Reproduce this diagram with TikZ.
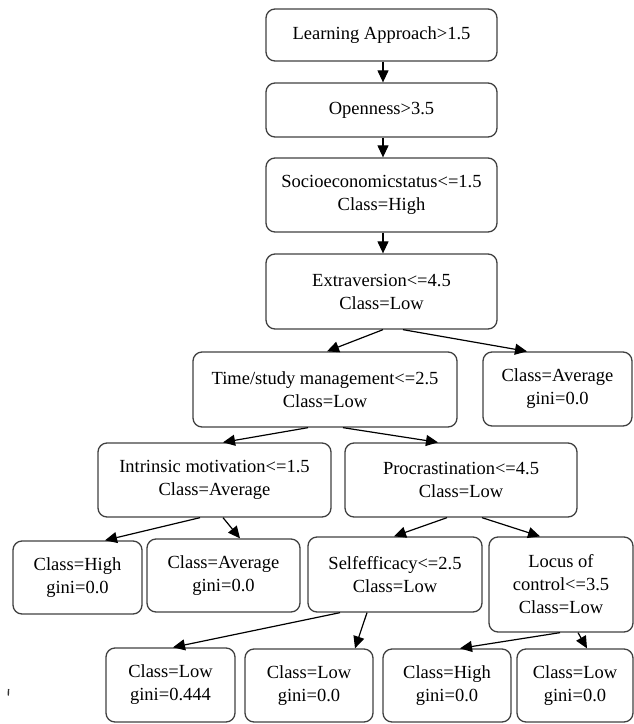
\documentclass[tikz,border=0pt]{standalone}
\usepackage{fontspec}
\setmainfont{Liberation Serif}
\usetikzlibrary{arrows.meta}
\begin{document}
\begin{tikzpicture}[x=1pt,y=-1pt,
  box/.style={draw=black!75, line width=1.3pt, rounded corners=9pt,
    inner sep=0pt, align=center,
    font=\fontsize{18.5}{23}\selectfont},
  arr/.style={draw=black, line width=1.2pt,
    -{Triangle[length=12pt,width=11pt]}}]
\useasboundingbox (0,0) rectangle (634,724);

% decision nodes, top to bottom
\node[box, minimum width=231pt, minimum height=52pt] (n1) at (381.5,35) {Learning Approach>1.5};
\node[box, minimum width=231pt, minimum height=54pt] (n2) at (381.5,110) {Openness>3.5};
\node[box, minimum width=231pt, minimum height=74pt] (n3) at (381.5,195) {Socioeconomicstatus<=1.5\\Class=High};
\node[box, minimum width=231pt, minimum height=75pt] (n4) at (381.5,291.5) {Extraversion<=4.5\\Class=Low};
\node[box, minimum width=264pt, minimum height=75pt] (n5) at (325,389.5) {Time/study management<=2.5\\Class=Low};
\node[box, minimum width=149pt, minimum height=74pt] (n6) at (557.5,389) {Class=Average\\gini=0.0};
\node[box, minimum width=233pt, minimum height=74pt] (n7) at (214.5,480) {Intrinsic motivation<=1.5\\Class=Average};
\node[box, minimum width=232pt, minimum height=74pt] (n8) at (461,480) {Procrastination<=4.5\\Class=Low};
\node[box, minimum width=129pt, minimum height=73pt] (n9) at (77.5,577.5) {Class=High\\gini=0.0};
\node[box, minimum width=153pt, minimum height=73pt] (n10) at (223.5,575.5) {Class=Average\\gini=0.0};
\node[box, minimum width=174pt, minimum height=75pt] (n11) at (395,574.5) {Selfefficacy<=2.5\\Class=Low};
\node[box, minimum width=144pt, minimum height=95pt] (n12) at (561,584.5) {Locus of\\control<=3.5\\Class=Low};
\node[box, minimum width=129pt, minimum height=74pt] (n13) at (170.5,685) {Class=Low\\gini=0.444};
\node[box, minimum width=128pt, minimum height=73pt] (n14) at (309,685.5) {Class=Low\\gini=0.0};
\node[box, minimum width=128pt, minimum height=73pt] (n15) at (447,685.5) {Class=High\\gini=0.0};
\node[box, minimum width=116pt, minimum height=73pt] (n16) at (575,685.5) {Class=Low\\gini=0.0};

% branches
\draw[arr] ([xshift=1.5]n1.south) -- ([xshift=1.5]n2.north);
\draw[arr] ([xshift=1.5]n2.south) -- ([xshift=1.5]n3.north);
\draw[arr] ([xshift=1.5]n3.south) -- ([xshift=1.5]n4.north);
\draw[arr] ([xshift=1.5]n4.south) -- ([xshift=2]n5.north);
\draw[arr] ([xshift=21.5]n4.south) -- ([xshift=-30.5]n6.north);
\draw[arr] ([xshift=-17]n5.south) -- ([xshift=8.5]n7.north);
\draw[arr] ([xshift=18]n5.south) -- ([xshift=-23]n8.north);
\draw[arr] ([xshift=-14.5]n7.south) -- ([xshift=27.5]n9.north);
\draw[arr] ([xshift=8.5]n7.south) -- ([xshift=16.5]n10.north);
\draw[arr] ([xshift=-14]n8.south) -- ([xshift=-1]n11.north);
\draw[arr] ([xshift=21]n8.south) -- ([xshift=-21]n12.north);
\draw[arr] ([xshift=-55]n11.south) -- ([xshift=2.5]n13.north);
\draw[arr] ([xshift=-28]n11.south) -- ([xshift=46]n14.north);
\draw[arr] ([xshift=-1]n12.south) -- ([xshift=13]n15.north);
\draw[arr] ([xshift=17]n12.south) -- ([xshift=12]n16.north);

% small tick mark at the lower left
\draw[black!80, line width=1.4pt] (8.6,689) -- (8.2,695.5);
\end{tikzpicture}
\end{document}
